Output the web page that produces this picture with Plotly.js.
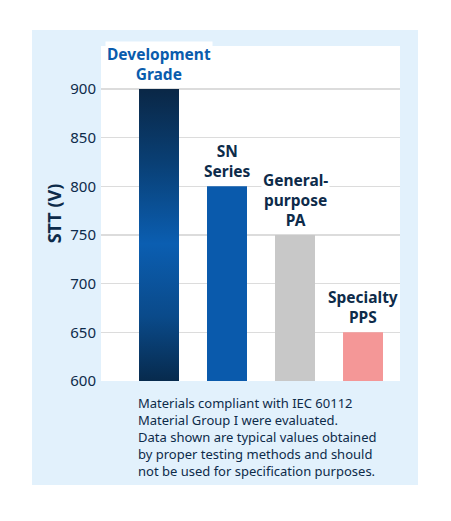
<!DOCTYPE html>
<html>
<head>
<meta charset="utf-8">
<script src="https://cdn.plot.ly/plotly-3.0.1.min.js"></script>
<style>
  html, body { margin: 0; padding: 0; background: #ffffff; width: 451px; height: 521px; overflow: hidden; }
  #chart { position: absolute; left: 32px; top: 30px; width: 386px; height: 455px; }
</style>
</head>
<body>
<div id="chart"></div>
<script>
// ---- data ----
const categories = ["Development<br>Grade", "SN<br>Series", "General-<br>purpose<br>PA", "Specialty<br>PPS"];
const sttValues = [900, 800, 750, 650];
const barColors = ["#0a5cad", "#0a5aac", "#c8c8c8", "#f49797"];
const labelColors = ["#0a5cad", "#0d2b4a", "#0d2b4a", "#0d2b4a"];
const yTicks = [600, 650, 700, 750, 800, 850, 900];
const yBase = 600;
const footnote1 = ["Materials compliant with IEC 60112", "Material Group I were evaluated."];
const footnote2 = ["Data shown are typical values obtained", "by proper testing methods and should", "not be used for specification purposes."];

const barWidth = 0.588;
const idx = categories.map((_, i) => i);
const navy = "#0d2b4a";
const fontFam = "'Noto Sans', 'Open Sans', sans-serif";

const traces = [{
  type: "bar",
  x: idx.slice(1),
  y: sttValues.slice(1).map(v => v - yBase),
  base: yBase,
  width: barWidth,
  marker: { color: barColors.slice(1), line: { width: 0 } },
  hoverinfo: "skip"
}];

const x0 = idx[0] - barWidth / 2, x1 = idx[0] + barWidth / 2;
traces.push({
  type: "scatter",
  mode: "lines",
  x: [x0, x1, x1, x0, x0],
  y: [yBase, yBase, sttValues[0], sttValues[0], yBase],
  fill: "toself",
  line: { width: 0, color: "rgba(0,0,0,0)" },
  fillgradient: {
    type: "vertical",
    colorscale: [[0, "#072a4d"], [0.22, "#0a4a8a"], [0.47, "#0b5eb1"], [0.75, "#093f74"], [1, "#0a2746"]]
  },
  hoverinfo: "skip"
});

const annotations = categories.map((c, i) => ({
  x: idx[i], y: sttValues[i], xref: "x", yref: "y",
  text: "<b>" + c + "</b>",
  showarrow: false, yanchor: "bottom", xanchor: "center",
  yshift: 2, bgcolor: "#ffffff", borderpad: 1,
  font: { family: fontFam, size: 15.5, color: labelColors[i] }
}));
annotations.push({
  xref: "paper", yref: "paper", x: 0.122, y: 0, xanchor: "left", yanchor: "top",
  yshift: -12, align: "left", showarrow: false, borderpad: 0,
  text: footnote1.join("<br>"),
  font: { family: fontFam, size: 13, color: navy }
});
annotations.push({
  xref: "paper", yref: "paper", x: 0.122, y: 0, xanchor: "left", yanchor: "top",
  yshift: -46, align: "left", showarrow: false, borderpad: 0,
  text: footnote2.join("<br>"),
  font: { family: fontFam, size: 13, color: navy }
});

const layout = {
  width: 386, height: 455,
  margin: { l: 69, r: 18, t: 16, b: 104 },
  paper_bgcolor: "#e2f1fc",
  plot_bgcolor: "#ffffff",
  showlegend: false,
  xaxis: {
    range: [-0.853, 3.544], showgrid: false, zeroline: false, showticklabels: false,
    showline: false, ticks: "", fixedrange: true
  },
  yaxis: {
    range: [600, 944.2], tickvals: yTicks, ticktext: yTicks.map(String),
    showgrid: true, gridcolor: "#dcdcdc", gridwidth: 1.5, zeroline: false, showline: false,
    ticks: "", ticklabelstandoff: 4,
    tickfont: { family: fontFam, size: 15, color: navy },
    title: { text: "<b>STT (V)</b>", font: { family: fontFam, size: 18, color: navy }, standoff: 3 },
    fixedrange: true
  },
  annotations: annotations
};

Plotly.newPlot("chart", traces, layout, { displayModeBar: false, staticPlot: true });
</script>
</body>
</html>
